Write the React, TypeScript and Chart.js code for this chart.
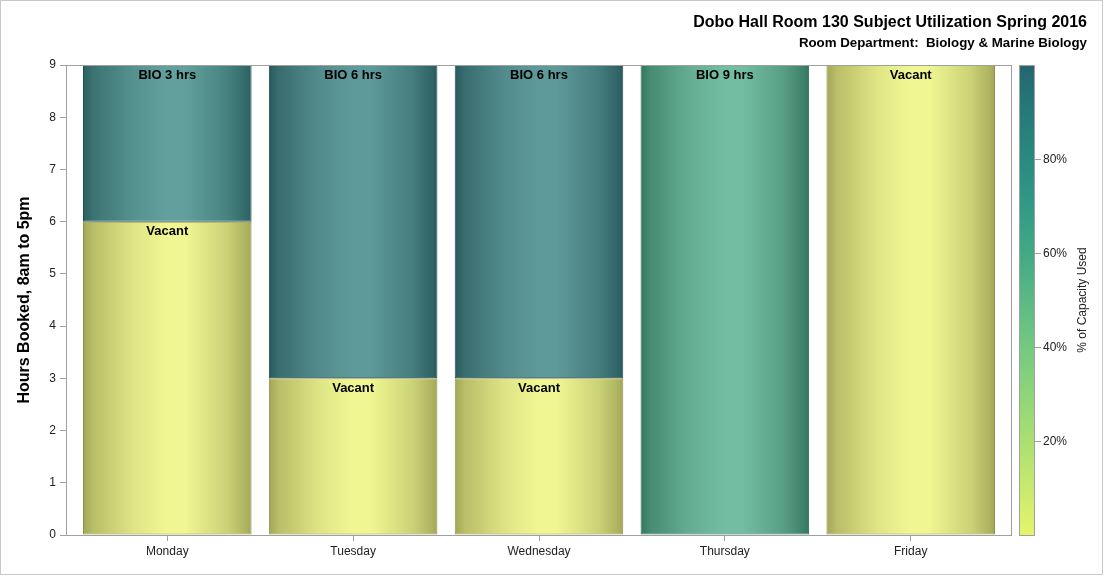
import React, { useEffect, useRef } from 'react';
import { Chart, registerables } from 'chart.js';

Chart.register(...registerables);

// ---------- data ----------
const days = ['Monday', 'Tuesday', 'Wednesday', 'Thursday', 'Friday'];
const vacantHours = [6, 3, 3, 0, 9];
const bioHours = [3, 6, 6, 9, 0];
const bioLabel = 'BIO';
const vacantLabel = 'Vacant';
const yTicks = [0, 1, 2, 3, 4, 5, 6, 7, 8, 9];
const colorbarTicks = [20, 40, 60, 80];

const TITLE = 'Dobo Hall Room 130 Subject Utilization Spring 2016';
const SUBTITLE = 'Room Department:  Biology & Marine Biology';
const Y_TITLE = 'Hours Booked, 8am to 5pm';
const CB_TITLE = '% of Capacity Used';

// ---------- styles ----------
const FONT = "Arial, 'Liberation Sans', sans-serif";
const BAR_FRACTION = 0.907;
const vacantShade = { edge: '#a1a656', light: '#f0f792', border: '#8c9147' };
const bioShades = [
  { edge: '#2a5f5f', light: '#61a19d', border: '#204e4e' },
  { edge: '#285a5d', light: '#5f9a9a', border: '#1f4a4d' },
  { edge: '#285a5d', light: '#5f9a9a', border: '#1f4a4d' },
  { edge: '#34765f', light: '#73bea3', border: '#29654f' },
  { edge: '#34765f', light: '#73bea3', border: '#29654f' },
];
const rampStops: [number, string][] = [
  [0, '#e6f46c'],
  [0.1, '#c9e96f'],
  [0.2, '#abdf72'],
  [0.3, '#8fd47a'],
  [0.4, '#74c97f'],
  [0.5, '#5ab985'],
  [0.6, '#42a986'],
  [0.7, '#319a85'],
  [0.8, '#298a81'],
  [0.9, '#257a79'],
  [1, '#266570'],
];

function hexToRgb(h: string) {
  const n = parseInt(h.slice(1), 16);
  return [(n >> 16) & 255, (n >> 8) & 255, n & 255];
}
function mix(a: string, b: string, t: number) {
  const A = hexToRgb(a);
  const B = hexToRgb(b);
  const c = A.map((v, i) => Math.round(v + (B[i] - v) * t));
  return `rgb(${c[0]},${c[1]},${c[2]})`;
}

function barGradient(chart: any, index: number, shade: { edge: string; light: string }) {
  const xs = chart.scales && chart.scales.x;
  if (!xs) return shade.light;
  const c = xs.getPixelForValue(index);
  const hw = (BAR_FRACTION * Math.abs(xs.getPixelForValue(1) - xs.getPixelForValue(0))) / 2;
  if (!isFinite(c) || !isFinite(hw)) return shade.light;
  const g = chart.ctx.createLinearGradient(c - hw, 0, c + hw, 0);
  g.addColorStop(0, shade.edge);
  g.addColorStop(0.06, mix(shade.edge, shade.light, 0.3));
  g.addColorStop(0.3, mix(shade.edge, shade.light, 0.78));
  g.addColorStop(0.5, shade.light);
  g.addColorStop(0.6, shade.light);
  g.addColorStop(0.85, mix(shade.edge, shade.light, 0.55));
  g.addColorStop(0.97, mix(shade.edge, shade.light, 0.15));
  g.addColorStop(1, shade.edge);
  return g;
}

const decorPlugin = {
  id: 'decor',
  afterDraw(chart: any) {
    const { ctx, chartArea } = chart;
    const { left, right, top, bottom } = chartArea;
    ctx.save();
    // outer border
    ctx.strokeStyle = '#c8c8c8';
    ctx.lineWidth = 1;
    ctx.strokeRect(0.5, 0.5, 1102, 574);
    // plot frame
    ctx.strokeStyle = '#a0a0a0';
    ctx.strokeRect(Math.round(left) + 0.5, Math.round(top) + 0.5, Math.round(right - left) - 1, Math.round(bottom - top));

    // bar labels
    ctx.fillStyle = '#000';
    ctx.font = `bold 13px ${FONT}`;
    ctx.textAlign = 'center';
    ctx.textBaseline = 'middle';
    chart.data.datasets.forEach((ds: any, di: number) => {
      const meta = chart.getDatasetMeta(di);
      meta.data.forEach((el: any, i: number) => {
        const v = ds.data[i] && ds.data[i].y;
        if (!v) return;
        const text = di === 0 ? vacantLabel : `${bioLabel} ${bioHours[i]} hrs`;
        const t = Math.min(el.y, el.base);
        ctx.fillText(text, el.x, t + 10);
      });
    });

    // titles
    ctx.textAlign = 'right';
    ctx.textBaseline = 'middle';
    ctx.font = `bold 16px ${FONT}`;
    ctx.fillText(TITLE, 1087, 23);
    ctx.font = `bold 13.3px ${FONT}`;
    ctx.fillText(SUBTITLE, 1087, 43.5);

    // y-axis title
    ctx.save();
    ctx.translate(25, (top + bottom) / 2);
    ctx.rotate(-Math.PI / 2);
    ctx.textAlign = 'center';
    ctx.font = `bold 16px ${FONT}`;
    ctx.fillText(Y_TITLE, 0, 0);
    ctx.restore();

    // colour bar
    const cbL = 1019;
    const cbW = 15;
    const g = ctx.createLinearGradient(0, bottom, 0, top);
    rampStops.forEach(([p, c]) => g.addColorStop(p, c));
    ctx.fillStyle = g;
    ctx.fillRect(cbL, top, cbW, bottom - top);
    ctx.strokeStyle = '#a0a0a0';
    ctx.strokeRect(cbL + 0.5, Math.round(top) + 0.5, cbW, Math.round(bottom - top));
    ctx.fillStyle = '#222';
    ctx.font = `12px ${FONT}`;
    ctx.textAlign = 'left';
    colorbarTicks.forEach((p) => {
      const y = Math.round(bottom - (p / 100) * (bottom - top)) + 0.5;
      ctx.beginPath();
      ctx.moveTo(cbL + cbW + 1, y);
      ctx.lineTo(cbL + cbW + 7, y);
      ctx.stroke();
      ctx.fillText(`${p}%`, cbL + cbW + 9, y);
    });
    ctx.save();
    ctx.translate(1083, (top + bottom) / 2);
    ctx.rotate(-Math.PI / 2);
    ctx.textAlign = 'center';
    ctx.fillText(CB_TITLE, 0, 0);
    ctx.restore();

    ctx.restore();
  },
};

export default function App() {
  const ref = useRef<HTMLCanvasElement | null>(null);
  useEffect(() => {
    if (!ref.current) return;
    const chart = new Chart(ref.current, {
      type: 'bar',
      data: {
        datasets: [
          {
            label: vacantLabel,
            data: days.map((_, i) => ({ x: i, y: vacantHours[i] || null })) as any,
            backgroundColor: (c: any) => barGradient(c.chart, c.dataIndex, vacantShade),
            borderColor: vacantShade.border,
            borderWidth: 1,
            borderSkipped: false,
            barPercentage: BAR_FRACTION,
            categoryPercentage: 1,
          },
          {
            label: bioLabel,
            data: days.map((_, i) => ({ x: i, y: bioHours[i] || null })) as any,
            backgroundColor: (c: any) => barGradient(c.chart, c.dataIndex, bioShades[c.dataIndex]),
            borderColor: (c: any) => bioShades[c.dataIndex].border,
            borderWidth: 1,
            borderSkipped: false,
            barPercentage: BAR_FRACTION,
            categoryPercentage: 1,
          },
        ],
      },
      options: {
        animation: false,
        responsive: false,
        devicePixelRatio: 1,
        layout: { padding: { top: 65, right: 92, left: 0, bottom: 0 } },
        plugins: { legend: { display: false }, tooltip: { enabled: false }, title: { display: false } },
        scales: {
          x: {
            type: 'linear',
            stacked: true,
            offset: false,
            min: -0.545,
            max: 4.545,
            afterFit: (s: any) => {
              s.height = 41;
            },
            afterBuildTicks: (s: any) => {
              s.ticks = days.map((_, i) => ({ value: i }));
            },
            ticks: {
              includeBounds: false,
              stepSize: 1,
              autoSkip: false,
              maxRotation: 0,
              padding: 3,
              color: '#222',
              font: { family: FONT, size: 12 },
              callback: (v: any) => days[Math.round(Number(v))] ?? '',
            },
            grid: { offset: false, drawOnChartArea: false, drawTicks: true, tickLength: 6, color: '#a0a0a0' },
            border: { display: false },
          },
          y: {
            stacked: true,
            min: 0,
            max: 9,
            afterFit: (s: any) => {
              s.width = 66;
            },
            afterBuildTicks: (s: any) => {
              s.ticks = yTicks.map((v) => ({ value: v }));
            },
            ticks: {
              stepSize: 1,
              padding: 4,
              color: '#222',
              font: { family: FONT, size: 12 },
            },
            grid: { drawOnChartArea: false, drawTicks: true, tickLength: 6, color: '#a0a0a0' },
            border: { display: false },
          },
        },
      },
      plugins: [decorPlugin],
    } as any);
    return () => chart.destroy();
  }, []);
  return (
    <div style={{ position: 'fixed', left: 0, top: 0, width: 1104, height: 576, background: '#fff' }}>
      <canvas ref={ref} width={1104} height={576} style={{ display: 'block', width: 1104, height: 576 }} />
    </div>
  );
}
